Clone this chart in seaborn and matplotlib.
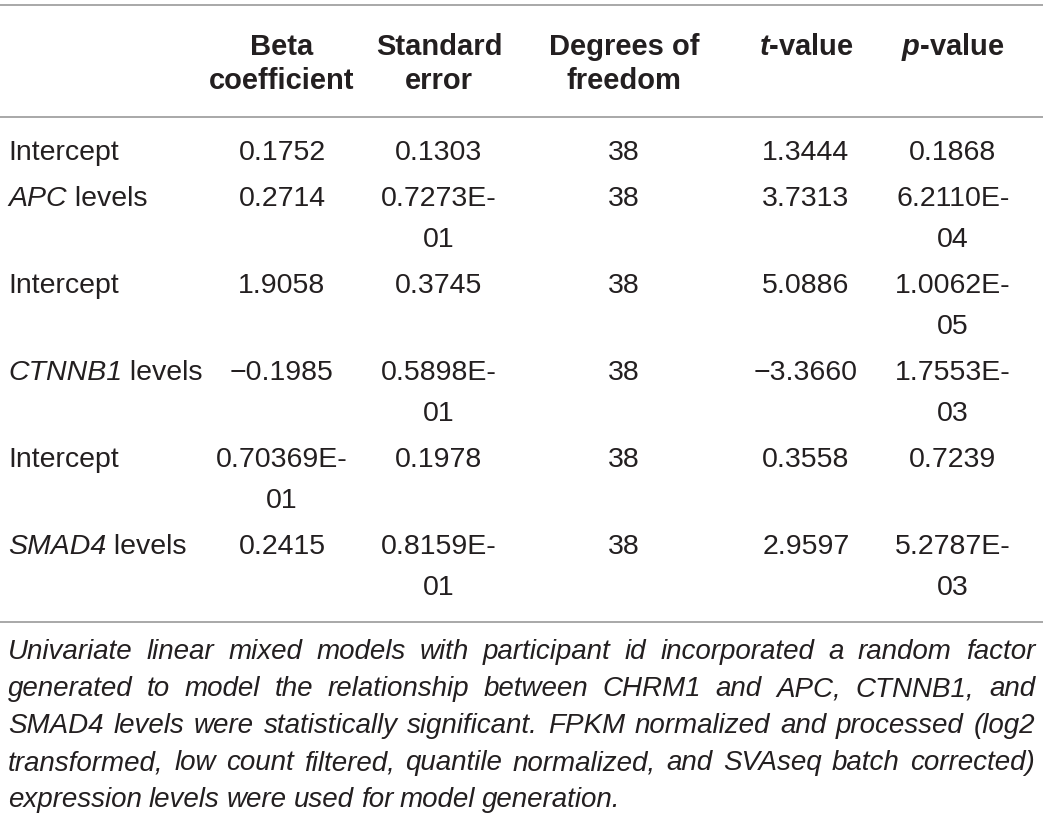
import matplotlib.pyplot as plt
import seaborn as sns

sns.set_theme(style="white")
plt.rcParams['font.family'] = ['Liberation Sans', 'DejaVu Sans']
plt.rcParams['mathtext.fontset'] = 'custom'
plt.rcParams['mathtext.rm'] = 'Liberation Sans'
plt.rcParams['mathtext.it'] = 'Liberation Sans:italic'
plt.rcParams['mathtext.bf'] = 'Liberation Sans:bold'
plt.rcParams['mathtext.bfit'] = 'Liberation Sans:bold:italic'

# table content
headers = ["", "Beta\ncoefficient", "Standard\nerror", "Degrees of\nfreedom",
           "$\\mathbfit{t}$-value", "$\\mathbfit{p}$-value"]
row_labels = ["Intercept", "APC levels", "Intercept",
              "CTNNB1 levels", "Intercept", "SMAD4 levels"]
gene_names = ["APC", "CTNNB1", "SMAD4"]  # set in italics
beta = ["0.1752", "0.2714", "1.9058", "\u22120.1985", "0.70369E-\n01", "0.2415"]
std_err = ["0.1303", "0.7273E-\n01", "0.3745", "0.5898E-\n01", "0.1978", "0.8159E-\n01"]
dof = ["38", "38", "38", "38", "38", "38"]
t_val = ["1.3444", "3.7313", "5.0886", "\u22123.3660", "0.3558", "2.9597"]
p_val = ["0.1868", "6.2110E-\n04", "1.0062E-\n05", "1.7553E-\n03", "0.7239", "5.2787E-\n03"]

caption = [
    "Univariate linear mixed models with participant id incorporated a random factor",
    "generated to model the relationship between CHRM1 and APC, CTNNB1, and",
    "SMAD4 levels were statistically significant. FPKM normalized and processed (log2",
    "transformed, low count filtered, quantile normalized, and SVAseq batch corrected)",
    "expression levels were used for model generation.",
]

W, H = 1043, 819
fig = plt.figure(figsize=(W / 100, H / 100), dpi=100)
ax = fig.add_axes([0, 0, 1, 1])
ax.set_xlim(0, W)
ax.set_ylim(H, 0)
ax.axis("off")
renderer = fig.canvas.get_renderer()

txt = "#231f20"
rule = "#9a9a9a"
fs = 20.5
line_h = 41
col_x = [8, 282, 439, 624, 806, 953]

# rules
for yy in (5, 117, 622):
    ax.plot([0, W], [yy, yy], color=rule, lw=1.2, solid_capstyle="butt")

# header
for cx, h in zip(col_x, headers):
    for i, part in enumerate(h.split("\n")):
        ax.text(cx, 47 + i * 34, part, ha="center", va="center",
                fontsize=fs + 0.5, fontweight="bold", color=txt)

# body
columns = [row_labels, beta, std_err, dof, t_val, p_val]
y = 153
for r in range(len(row_labels)):
    nlines = max(col[r].count("\n") + 1 for col in columns)
    # first column: gene name in italics, rest upright
    first, _, rest = row_labels[r].partition(" ")
    if first in gene_names:
        g = ax.text(col_x[0], y, first, ha="left", va="center",
                    fontsize=fs, style="italic", color=txt)
        gw = g.get_window_extent(renderer).width
        ax.text(col_x[0] + gw, y, " " + rest, ha="left", va="center",
                fontsize=fs, color=txt)
    else:
        ax.text(col_x[0], y, row_labels[r], ha="left", va="center",
                fontsize=fs, color=txt)
    for c, col in enumerate(columns[1:], start=1):
        for i, part in enumerate(col[r].split("\n")):
            ax.text(col_x[c], y + i * line_h, part, ha="center", va="center",
                    fontsize=fs, color=txt)
    y += 46 + line_h * (nlines - 1)

# justified caption
left, right = 8, 1035
cap_y = 652
cap_font = dict(fontsize=20, style="italic", color=txt)
for k, line in enumerate(caption):
    words = line.split(" ")
    yy = cap_y + k * 37
    items = [ax.text(0, yy, w, ha="left", va="center", **cap_font) for w in words]
    widths = [t.get_window_extent(renderer).width for t in items]
    if k < len(caption) - 1:
        gap = (right - left - sum(widths)) / (len(words) - 1)
    else:
        gap = 7
    x = left
    for t, w in zip(items, widths):
        t.set_x(x)
        x += w + gap

fig.savefig("out.png", dpi=100)
